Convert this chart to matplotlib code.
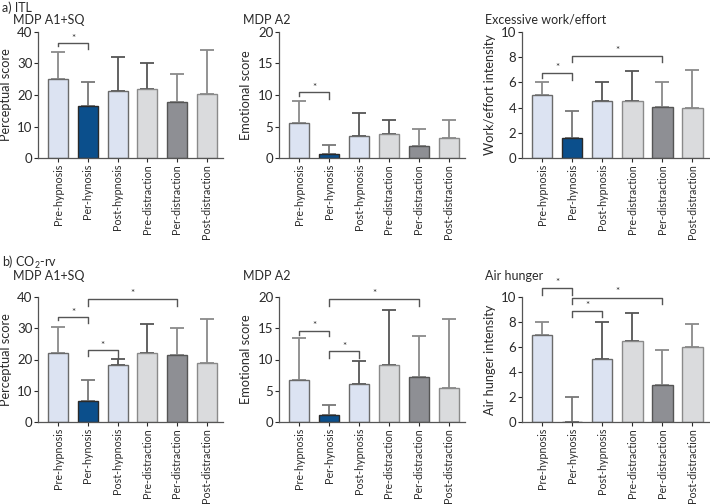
import matplotlib
matplotlib.use("Agg")
import matplotlib.pyplot as plt

plt.rcParams['font.family'] = ['Lato', 'DejaVu Sans']
plt.rcParams['mathtext.fontset'] = 'custom'
plt.rcParams['mathtext.rm'] = 'Lato'
plt.rcParams['mathtext.it'] = 'Lato'

categories = ["Pre-hypnosis", "Per-hynosis", "Post-hypnosis",
              "Pre-distraction", "Per-distraction", "Post-distraction"]

# ITL
itl_perc_mean = [25.1, 16.6, 21.4, 21.9, 17.8, 20.3]
itl_perc_top = [33.8, 24.2, 32.0, 30.1, 26.7, 34.3]
itl_emo_mean = [5.6, 0.6, 3.5, 3.8, 1.9, 3.2]
itl_emo_top = [9.0, 2.1, 7.1, 6.0, 4.65, 6.0]
itl_work_mean = [5.03, 1.6, 4.55, 4.55, 4.05, 4.0]
itl_work_top = [6.0, 3.76, 6.0, 6.9, 6.0, 6.96]

# CO2-rv
co2_perc_mean = [22.0, 6.6, 18.2, 22.0, 21.6, 19.0]
co2_perc_top = [30.5, 13.3, 20.3, 31.3, 30.0, 33.0]
co2_emo_mean = [6.7, 1.2, 6.1, 9.2, 7.2, 5.5]
co2_emo_top = [13.4, 2.7, 9.7, 17.9, 13.7, 16.5]
co2_air_mean = [6.97, 0.0, 5.03, 6.5, 2.95, 6.04]
co2_air_top = [8.03, 2.02, 8.03, 8.75, 5.75, 7.82]

# significance brackets: (i, j, height, left leg bottom, right leg bottom)
itl_perc_sig = [(0, 1, 36.5, 35.4, 34.6)]
itl_emo_sig = [(0, 1, 10.4, 9.8, 9.4)]
itl_work_sig = [(0, 1, 6.75, 6.35, 6.2), (1, 4, 8.1, 7.6, 7.6)]
co2_perc_sig = [(0, 1, 33.5, 32.6, 31.6), (1, 2, 22.9, 21.2, 20.4), (1, 4, 39.4, 37.2, 37.2)]
co2_emo_sig = [(0, 1, 14.6, 13.9, 13.7), (1, 2, 11.3, 10.2, 10.2), (1, 4, 19.7, 18.6, 18.6)]
co2_air_sig = [(0, 1, 10.7, 10.2, 10.2), (1, 2, 8.9, 8.4, 8.4), (1, 4, 9.95, 9.45, 9.45)]

fills = ["#dce3f2", "#0b4f8c", "#dce3f2", "#dadbdd", "#8e8f94", "#dadbdd"]
edges = ["#6a6a6a", "#2a2a2a", "#6a6a6a", "#8a8a8a", "#555555", "#8a8a8a"]
errc = ["#8a8a8a", "#777777", "#555555", "#555555", "#8a8a8a", "#8a8a8a"]

TXT = "#2a2a2a"
W, H = 710, 504
fig = plt.figure(figsize=(W / 100, H / 100), dpi=100)

def axes_px(x0, x1, ytop, ybot):
    return fig.add_axes([x0 / W, 1 - ybot / H, (x1 - x0) / W, (ybot - ytop) / H])

def panel(ax, means, tops, ymax, yticks, ylabel, sigs, step):
    x = list(range(len(categories)))
    for i in x:
        ax.errorbar([i], [means[i]], yerr=[[0], [tops[i] - means[i]]], fmt='none',
                    ecolor=errc[i], elinewidth=1.3, capsize=5, capthick=1.3, zorder=1)
    ax.bar(x, means, width=0.67, color=fills, edgecolor=edges, linewidth=1.0, zorder=2)
    ax.set_xlim(-0.68, 5.55)
    ax.set_ylim(0, ymax)
    ax.set_yticks(yticks)
    ax.set_xticks(x)
    ax.set_xticklabels(categories, rotation=90, fontsize=7.7, color=TXT)
    ax.tick_params(axis='y', labelsize=9.5, colors=TXT, length=3, width=0.8, pad=1)
    ax.tick_params(axis='x', length=3, width=0.8, pad=1.2, colors=TXT)
    for s in ["top", "right"]:
        ax.spines[s].set_visible(False)
    for s in ["left", "bottom"]:
        ax.spines[s].set_color("#555555")
        ax.spines[s].set_linewidth(0.9)
    ax.set_ylabel(ylabel, fontsize=9.2, color=TXT, labelpad=4)
    for (i, j, h, lb, rb) in sigs:
        ax.plot([i, i, j, j], [lb, h, h, rb], color="#555555", lw=1.0, clip_on=False, zorder=3)
        ax.text((i + j) / 2, h + step, "*", ha='center', va='center', fontsize=7,
                color=TXT, clip_on=False)

# top row
a1 = axes_px(38, 223, 32, 158)
panel(a1, itl_perc_mean, itl_perc_top, 40, [0, 10, 20, 30, 40], "Perceptual score", itl_perc_sig, 1.5)
a2 = axes_px(279, 465, 32, 158)
panel(a2, itl_emo_mean, itl_emo_top, 20, [0, 5, 10, 15, 20], "Emotional score", itl_emo_sig, 0.8)
a3 = axes_px(522, 709, 32, 158)
panel(a3, itl_work_mean, itl_work_top, 10, [0, 2, 4, 6, 8, 10], "Work/effort intensity", itl_work_sig, 0.4)

# bottom row
b1 = axes_px(38, 223, 297, 422)
panel(b1, co2_perc_mean, co2_perc_top, 40, [0, 10, 20, 30, 40], "Perceptual score", co2_perc_sig, 1.6)
b2 = axes_px(279, 465, 297, 422)
panel(b2, co2_emo_mean, co2_emo_top, 20, [0, 5, 10, 15, 20], "Emotional score", co2_emo_sig, 0.8)
b3 = axes_px(522, 709, 297, 422)
panel(b3, co2_air_mean, co2_air_top, 10, [0, 2, 4, 6, 8, 10], "Air hunger intensity", co2_air_sig, 0.45)

def ftext(x, y, s):
    fig.text(x / W, 1 - y / H, s, fontsize=9, color=TXT, ha='left', va='center')

ftext(2, 8, "a) ITL")
ftext(13, 20, "MDP A1+SQ")
ftext(243, 20, "MDP A2")
ftext(485, 20, "Excessive work/effort")
ftext(2, 262, "b) CO$_2$-rv")
ftext(13, 276, "MDP A1+SQ")
ftext(243, 276, "MDP A2")
ftext(485, 276, "Air hunger")

fig.savefig("out.png", dpi=100)
